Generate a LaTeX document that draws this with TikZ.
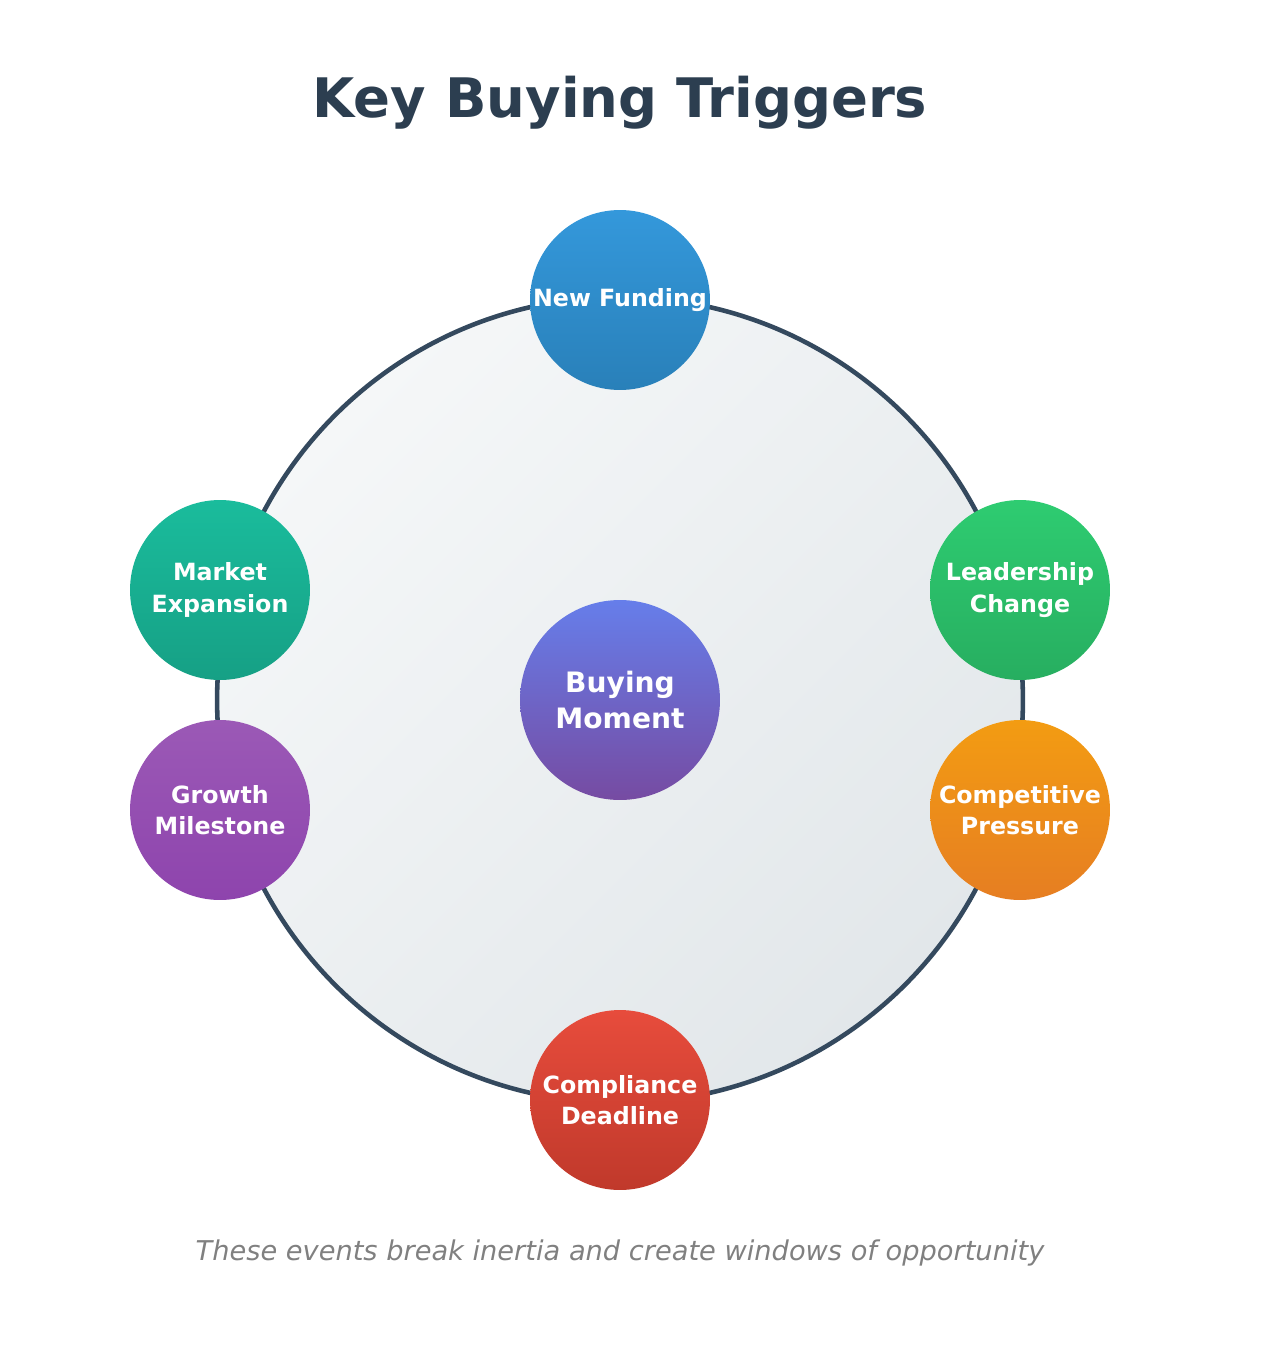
\documentclass[tikz,border=0pt]{standalone}
\usepackage{fontspec}
\setmainfont{DejaVu Sans}
\usetikzlibrary{positioning}
\definecolor{ink}{HTML}{2C3E50}
\definecolor{ring}{HTML}{34495E}
\begin{document}
\begin{tikzpicture}[x=0.02cm,y=-0.02cm]
\tikzset{
  trigger/.style={circle,minimum size=3.6cm,inner sep=0pt,align=center,text=white,
    font=\fontsize{13.5}{18}\selectfont\bfseries,shading angle=45},
  label/.style={inner sep=0pt,align=center}
}
\useasboundingbox (0,0) rectangle (1265,1352);
% title
\node[label,text=ink,font=\fontsize{31}{36}\selectfont\bfseries] (title) at (620,103) {Key Buying Triggers};
% ring
\node[circle,minimum size=16.12cm,draw=ring,line width=2.6pt,top color={rgb,255:red,245;green,247;blue,248},bottom color={rgb,255:red,226;green,231;blue,234},shading angle=45] (ring) at (620,700) {};
% centre
\node[trigger,minimum size=4cm,top color={rgb,255:red,102;green,126;blue,234},bottom color={rgb,255:red,118;green,75;blue,162},
  font=\fontsize{16}{20}\selectfont\bfseries] (moment) at (620,700) {Buying\\Moment};
% triggers
\node[trigger,top color={rgb,255:red,52;green,152;blue,219},bottom color={rgb,255:red,41;green,128;blue,185}] (funding) at (620,300) {New Funding};
\node[trigger,top color={rgb,255:red,26;green,188;blue,156},bottom color={rgb,255:red,22;green,160;blue,133}] (market) at (220,590) {Market\\Expansion};
\node[trigger,top color={rgb,255:red,46;green,204;blue,113},bottom color={rgb,255:red,39;green,174;blue,96}] (leader) at (1020,590) {Leadership\\Change};
\node[trigger,top color={rgb,255:red,155;green,89;blue,182},bottom color={rgb,255:red,142;green,68;blue,173}] (growth) at (220,810) {Growth\\Milestone};
\node[trigger,top color={rgb,255:red,243;green,156;blue,18},bottom color={rgb,255:red,230;green,126;blue,34}] (compet) at (1020,810) {Competitive\\Pressure};
\node[trigger,top color={rgb,255:red,231;green,76;blue,60},bottom color={rgb,255:red,192;green,57;blue,43}] (comply) at (620,1100) {Compliance\\Deadline};
% caption
\node[label,text=gray,font=\fontsize{15.5}{20}\selectfont\itshape] (note) at (620,1253) {These events break inertia and create windows of opportunity};
\end{tikzpicture}
\end{document}
